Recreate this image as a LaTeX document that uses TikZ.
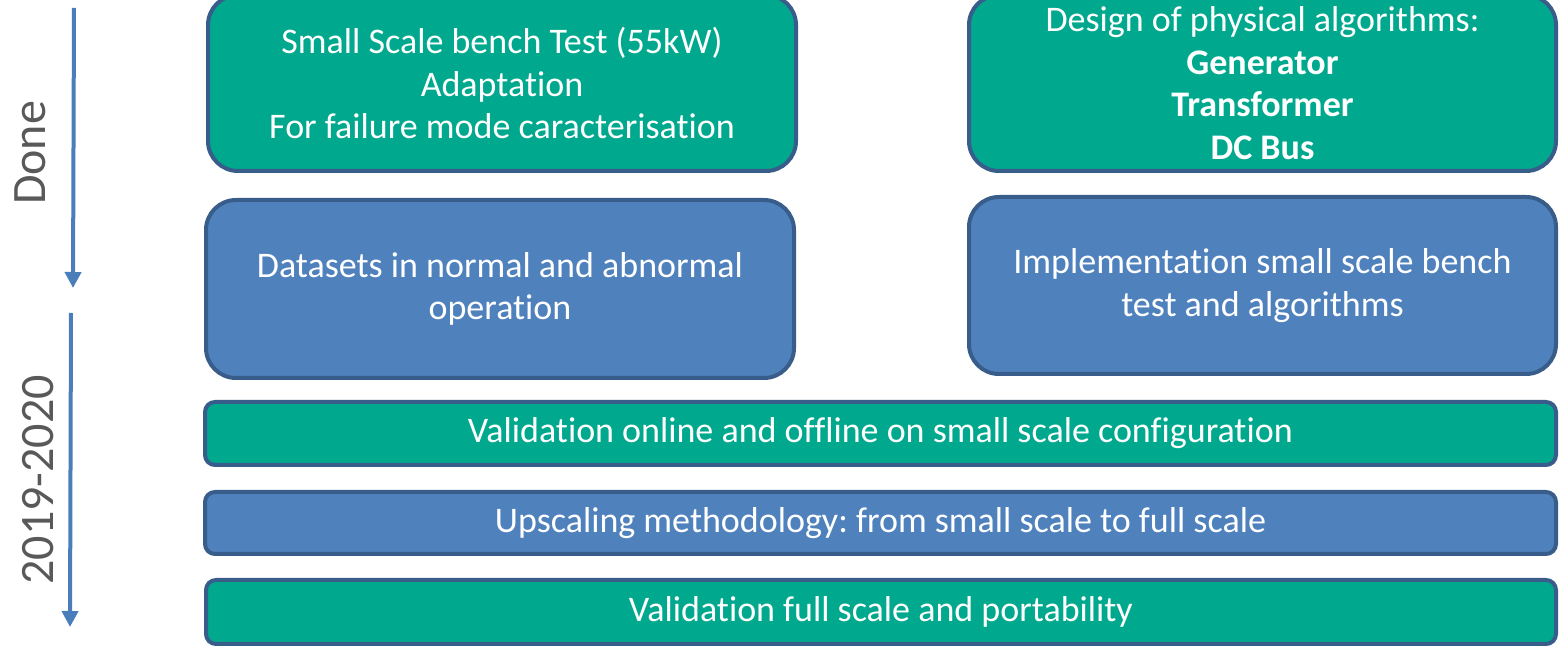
\documentclass[tikz,border=0pt]{standalone}
\usepackage{fontspec}
\setmainfont[Ligatures=NoCommon]{Carlito}
\frenchspacing
\usetikzlibrary{arrows.meta}
\definecolor{tealfill}{RGB}{0,168,142}
\definecolor{bluefill}{RGB}{79,129,189}
\definecolor{edgeblue}{RGB}{56,93,138}
\definecolor{arrowblue}{RGB}{74,126,187}
\definecolor{labelgray}{RGB}{89,89,89}
\tikzset{
  card/.style={draw=edgeblue, line width=2pt, rounded corners=15pt,
    inner sep=0pt, align=center, text=white,
    font=\fontsize{18}{21.3}\selectfont},
  bar/.style={card, rounded corners=5pt},
  tealcard/.style={fill=tealfill},
  bluecard/.style={fill=bluefill},
  timeline/.style={draw=arrowblue, line width=2pt,
    -{Triangle[width=8pt,length=8pt]}},
  period/.style={rotate=90, text=labelgray, font=\fontsize{24}{28}\selectfont}
}
\begin{document}
\begin{tikzpicture}[x=0.5pt, y=-0.5pt]
\useasboundingbox (0,0) rectangle (1560,646);

% upper pair of cards
\node[card, tealcard, minimum width=294pt, minimum height=88pt] (bench) at (502,83)
  {Small Scale bench Test (55kW)\\Adaptation\\For failure mode caracterisation};
\node[card, tealcard, minimum width=293.5pt, minimum height=88pt] (design) at (1262.5,83)
  {Design of physical algorithms:\\\textbf{Generator}\\\textbf{Transformer}\\\textbf{DC Bus}};

% second pair of cards
\node[card, bluecard, minimum width=294pt, minimum height=89pt] (datasets) at (500,289)
  {Datasets in normal and abnormal\\operation};
\node[card, bluecard, minimum width=293.5pt, minimum height=88.5pt] (implem) at (1262.5,285.5)
  {Implementation small scale bench\\test and algorithms};

% full-width bars
\node[bar, tealcard, minimum width=675.5pt, minimum height=31.5pt] (valsmall) at (880.5,433.5)
  {Validation online and offline on small scale configuration};
\node[bar, bluecard, minimum width=675.5pt, minimum height=31pt] (upscale) at (880.5,523)
  {Upscaling methodology: from small scale to full scale};
\node[bar, tealcard, minimum width=675pt, minimum height=32pt] (valfull) at (881,612)
  {Validation full scale and portability};

% timeline arrows
\coordinate (doneTop) at (74,8);
\coordinate (doneEnd) at (73,288);
\coordinate (nextTop) at (71,313);
\coordinate (nextEnd) at (70,627);
\draw[timeline] (doneTop) -- (doneEnd);
\draw[timeline] (nextTop) -- (nextEnd);

% period labels
\node[period] (done) at (30,153) {Done};
\node[period] (years) at (38,480) {2019-2020};
\end{tikzpicture}
\end{document}
